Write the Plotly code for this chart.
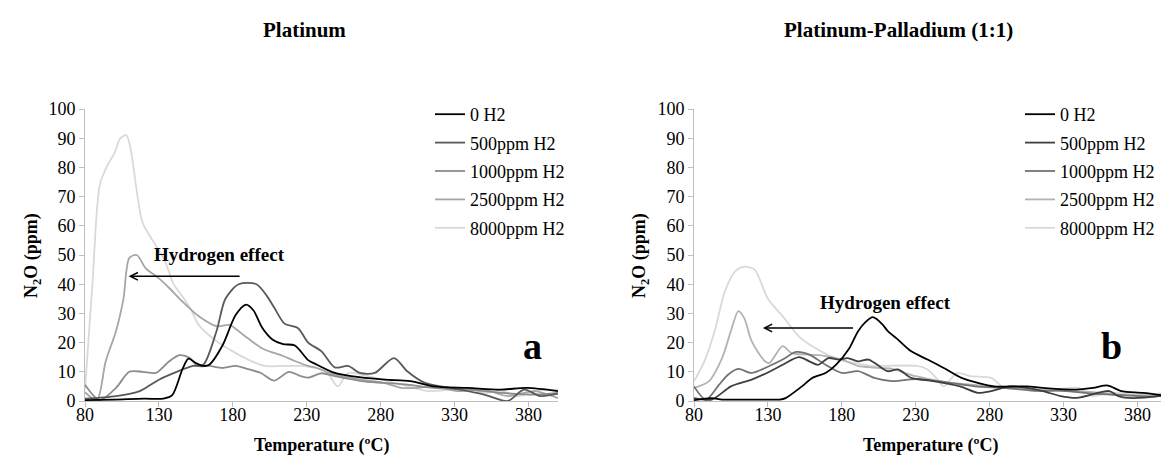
import plotly.graph_objects as go

# ---------------- data ----------------
SERIES = ["0 H2", "500ppm H2", "1000ppm H2", "2500ppm H2", "8000ppm H2"]
X_TICKS = [80, 130, 180, 230, 280, 330, 380]

# Platinum (a)
pt_0_t = [80, 100, 120, 133, 139, 146, 150, 155, 160, 164, 173, 182, 189, 194, 200, 207, 214, 222, 231, 237, 249, 260, 283, 300, 316, 339, 361, 379, 400]
pt_0_v = [0.3, 0.5, 0.8, 0.8, 2, 11, 14.5, 13, 12, 12.4, 19, 29.5, 33, 31, 25, 21, 19.5, 19, 14, 12.4, 9.6, 8.5, 7.3, 6.8, 5, 4.5, 3.9, 4.5, 3.4]

pt_500_t = [80, 101, 117, 130, 142, 153, 160, 169, 175, 184, 196, 203, 208, 215, 224, 231, 240, 249, 258, 266, 276, 289, 298, 310, 327, 350, 366, 377, 388, 400]
pt_500_v = [0.8, 1.7, 3.4, 7.3, 10, 12, 12.4, 24, 35, 40, 40, 36, 32, 26.5, 25, 20, 17, 11.5, 12, 9.6, 9.6, 14.7, 10.2, 6.2, 4.5, 2.2, 0, 3.9, 1.7, 2.5]

pt_1000_t = [80, 90, 101, 110, 119, 128, 137, 144, 151, 156, 164, 173, 182, 191, 199, 208, 218, 226, 231, 240, 249, 267, 282, 298, 316, 339, 361, 384, 400]
pt_1000_v = [5.6, 0.3, 4.5, 10, 10, 9.6, 13.6, 15.7, 14.7, 12, 12, 11.3, 12, 10.8, 9.6, 7, 10, 8.5, 8, 9.5, 8.5, 6.8, 6.2, 5.6, 4.5, 3.9, 2.8, 2.2, 2.8]

pt_2500_t = [80, 88, 94, 101, 106, 110, 115, 121, 130, 137, 146, 157, 169, 178, 187, 200, 214, 222, 231, 237, 249, 267, 282, 294, 305, 316, 332, 350, 366, 384, 400]
pt_2500_v = [3, 0.3, 13.6, 24, 35, 49, 50, 45.5, 42, 38.7, 34, 29, 25.6, 26, 22.7, 18, 15.4, 13.7, 12, 11.3, 9, 7.3, 6.2, 4.5, 4.5, 5, 3.4, 3.9, 1.7, 3.4, 1]

pt_8000_t = [80, 85, 90, 95, 100, 104, 108, 111, 115, 119, 127, 134, 140, 147, 152, 157, 169, 180, 191, 202, 214, 226, 238, 244, 251, 258, 271, 294, 312, 327, 339, 350, 361, 373, 384, 400]
pt_8000_v = [4, 40, 74, 80.5, 85, 90, 91, 86, 72, 61, 54, 48, 40, 35, 31, 26, 20.5, 17, 14, 12, 12, 12, 11, 9.6, 5, 9.6, 8.5, 5.6, 3.4, 3.9, 4.5, 2.7, 3.5, 1.7, 3.4, 3.9]

# Platinum-Palladium (b)
pp_0_t = [80, 92, 99, 115, 126, 138, 142, 153, 160, 169, 176, 185, 191, 196, 201, 207, 211, 218, 227, 238, 249, 261, 272, 283, 305, 316, 339, 350, 360, 369, 384, 400]
pp_0_v = [0.3, 1, 0.5, 0.5, 0.5, 0.5, 1, 5, 7.9, 9.6, 12.4, 18, 23.9, 27, 28.7, 26.5, 24, 21, 17, 14.2, 11.3, 7.9, 6.2, 5, 5, 4.5, 3.9, 4.5, 5.3, 3.4, 2.8, 1.7]

pp_500_t = [80, 92, 105, 119, 131, 140, 151, 158, 164, 171, 178, 184, 191, 198, 204, 211, 218, 227, 240, 260, 272, 281, 294, 305, 316, 328, 339, 361, 367, 377, 400]
pp_500_v = [1, 0.5, 5, 7.3, 10, 12.4, 15, 13.6, 12.4, 14.7, 14.2, 14.7, 13.6, 14.2, 12.4, 10.2, 10.8, 7.9, 7, 5, 2.8, 3.4, 5, 4.5, 3.4, 1.7, 1.1, 3.4, 1.7, 1, 2]

pp_1000_t = [80, 88, 97, 103, 110, 119, 131, 140, 149, 158, 169, 180, 191, 202, 214, 230, 250, 270, 290, 310, 330, 350, 370, 390, 400]
pp_1000_v = [5, 0.5, 5.6, 9, 11, 9.6, 12, 14.2, 16.8, 15.9, 12.4, 9.6, 10.2, 7.9, 6.8, 7.5, 6.5, 5, 4.5, 3.5, 3.5, 2.5, 2, 1.5, 2]

pp_2500_t = [80, 90, 99, 105, 110, 114, 119, 128, 131, 140, 146, 158, 169, 180, 191, 202, 214, 230, 250, 270, 290, 310, 330, 350, 370, 390, 400]
pp_2500_v = [4.5, 6.7, 14.7, 24, 30.8, 28.4, 20.5, 13.6, 13, 18.8, 16.4, 15.9, 15.4, 14.2, 12, 11.4, 11, 8.5, 6.5, 5.5, 4.5, 4, 3.5, 3, 2, 2, 2.5]

pp_8000_t = [80, 87, 94, 101, 108, 114, 121, 130, 141, 152, 166, 179, 189, 200, 204, 231, 238, 245, 249, 258, 267, 281, 290, 305, 316, 340, 350, 361, 384, 400]
pp_8000_v = [6.7, 13.6, 24, 37.7, 44.5, 46, 45, 35, 28.4, 21.6, 17, 14, 13, 12, 12, 12, 10.8, 7.3, 5, 9.6, 8.5, 7.9, 4.5, 3.9, 3.4, 4.5, 1.7, 2.8, 2.2, 2.8]

# ---------------- styling ----------------
FONT = "'Liberation Serif', 'Times New Roman', 'DejaVu Serif', serif"
AX = "#bfbfbf"
pt_colors = ["#000000", "#595959", "#8c8c8c", "#a6a6a6", "#d9d9d9"]
pp_colors = ["#000000", "#3f3f3f", "#737373", "#b3b3b3", "#d9d9d9"]

pt_data = [(pt_0_t, pt_0_v), (pt_500_t, pt_500_v), (pt_1000_t, pt_1000_v), (pt_2500_t, pt_2500_v), (pt_8000_t, pt_8000_v)]
pp_data = [(pp_0_t, pp_0_v), (pp_500_t, pp_500_v), (pp_1000_t, pp_1000_v), (pp_2500_t, pp_2500_v), (pp_8000_t, pp_8000_v)]

fig = go.Figure()
# lightest drawn first so darker lines sit on top; legend order kept by legendrank
for i in reversed(range(5)):
    t, v = pt_data[i]
    fig.add_trace(go.Scatter(x=t, y=v, name=SERIES[i], mode="lines",
                             line=dict(color=pt_colors[i], width=1.8, shape="spline", smoothing=0.8),
                             xaxis="x", yaxis="y", legend="legend", legendgroup="a%d" % i,
                             legendrank=i + 1))
for i in reversed(range(5)):
    t, v = pp_data[i]
    fig.add_trace(go.Scatter(x=t, y=v, name=SERIES[i], mode="lines",
                             line=dict(color=pp_colors[i], width=1.8, shape="spline", smoothing=0.8),
                             xaxis="x2", yaxis="y2", legend="legend2", legendgroup="b%d" % i,
                             legendrank=i + 1))

W, H = 1169, 461
def px(x):
    return x / W
def py(y):
    return 1 - y / H

axis_common = dict(showline=True, linecolor=AX, linewidth=1, ticks="outside", ticklen=5,
                   tickcolor=AX, tickwidth=1, showgrid=False, zeroline=False,
                   tickfont=dict(family=FONT, size=18, color="black"), automargin=False)

fig.update_layout(
    width=W, height=H,
    margin=dict(l=0, r=0, t=0, b=0),
    paper_bgcolor="white", plot_bgcolor="white",
    font=dict(family=FONT, color="black"),
    showlegend=True,
    xaxis=dict(domain=[px(77), px(550)], range=[80, 400], tickvals=X_TICKS, anchor="y",
               ticklabelstandoff=-8, **axis_common),
    yaxis=dict(domain=[py(393), py(101)], range=[0, 100], dtick=10, anchor="x", **axis_common),
    xaxis2=dict(domain=[px(686), px(1159)], range=[80, 400], tickvals=X_TICKS, anchor="y2",
                ticklabelstandoff=-8, **axis_common),
    yaxis2=dict(domain=[py(393), py(101)], range=[0, 100], dtick=10, anchor="x2", **axis_common),
    legend=dict(x=px(422), y=py(88), xanchor="left", yanchor="top", bgcolor="rgba(0,0,0,0)",
                font=dict(family=FONT, size=18, color="black"), tracegroupgap=2,
                traceorder="grouped"),
    legend2=dict(x=px(1012), y=py(88), xanchor="left", yanchor="top", bgcolor="rgba(0,0,0,0)",
                 font=dict(family=FONT, size=18, color="black"), tracegroupgap=2,
                 traceorder="grouped"),
)

ann = []
def text(x, y, s, size, xref="paper", yref="paper", angle=0):
    ann.append(dict(x=x, y=y, xref=xref, yref=yref, text=s, showarrow=False, textangle=angle,
                    xanchor="center", yanchor="middle",
                    font=dict(family=FONT, size=size, color="black")))

text(px(296), py(22), "<b>Platinum</b>", 21)
text(px(890), py(22), "<b>Platinum-Palladium (1:1)</b>", 21)
text(px(24), py(248), "<b>N<sub>2</sub>O (ppm)</b>", 18, angle=-90)
text(px(632), py(248), "<b>N<sub>2</sub>O (ppm)</b>", 18, angle=-90)
text(px(313.5), py(437), "<b>Temperature (ºC)</b>", 18)
text(px(922.5), py(437), "<b>Temperature (ºC)</b>", 18)
text(px(524), py(338), "<b>a</b>", 38)
text(px(1103), py(338), "<b>b</b>", 38)
text(171, 50.1, "<b>Hydrogen effect</b>", 19, xref="x", yref="y")
text(209.7, 33.6, "<b>Hydrogen effect</b>", 19, xref="x2", yref="y2")

# arrows
ann.append(dict(x=109.5, y=42.7, ax=185.6, ay=42.7, xref="x", yref="y", axref="x", ayref="y",
                showarrow=True, arrowhead=5, arrowsize=1, arrowwidth=1.5, arrowcolor="black", text=""))
ann.append(dict(x=126.6, y=25, ax=188.6, ay=25, xref="x2", yref="y2", axref="x2", ayref="y2",
                showarrow=True, arrowhead=5, arrowsize=1, arrowwidth=1.5, arrowcolor="black", text=""))

fig.update_layout(annotations=ann)
fig.write_html("out.html")
